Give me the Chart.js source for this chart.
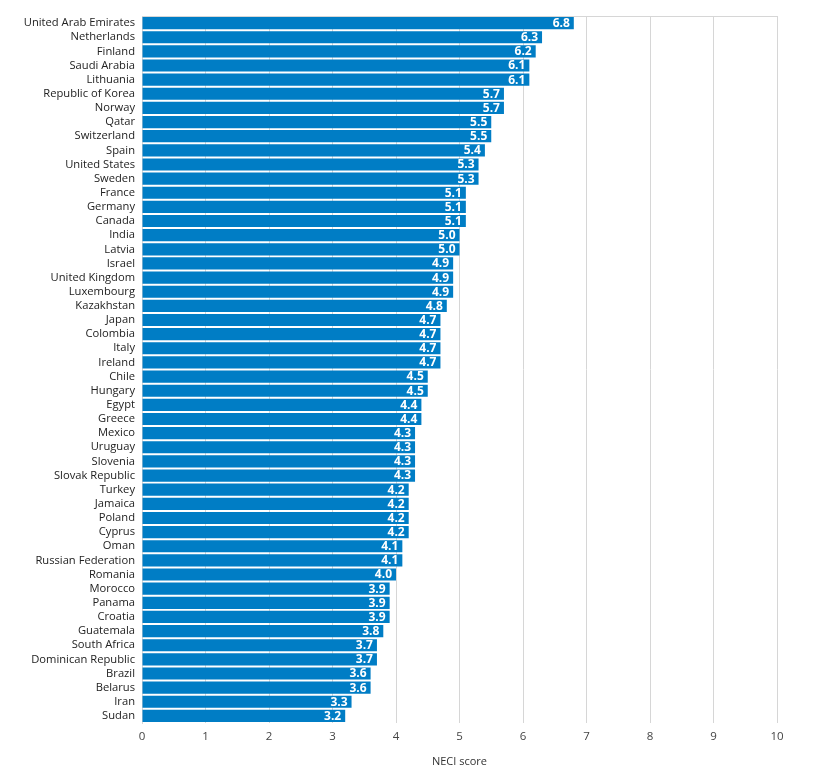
<!DOCTYPE html>
<html>
<head>
<meta charset="utf-8">
<script src="https://cdn.jsdelivr.net/npm/chart.js@4.4.1/dist/chart.umd.min.js"></script>
<style>
  html, body { margin: 0; padding: 0; background: #fff; }
  #wrap { width: 825px; height: 781px; }
</style>
</head>
<body>
<div id="wrap"><canvas id="canvas-1"></canvas></div>
<script>
// NECI score by country
var countries = [
  'United Arab Emirates', 'Netherlands', 'Finland', 'Saudi Arabia', 'Lithuania',
  'Republic of Korea', 'Norway', 'Qatar', 'Switzerland', 'Spain',
  'United States', 'Sweden', 'France', 'Germany', 'Canada',
  'India', 'Latvia', 'Israel', 'United Kingdom', 'Luxembourg',
  'Kazakhstan', 'Japan', 'Colombia', 'Italy', 'Ireland',
  'Chile', 'Hungary', 'Egypt', 'Greece', 'Mexico',
  'Uruguay', 'Slovenia', 'Slovak Republic', 'Turkey', 'Jamaica',
  'Poland', 'Cyprus', 'Oman', 'Russian Federation', 'Romania',
  'Morocco', 'Panama', 'Croatia', 'Guatemala', 'South Africa',
  'Dominican Republic', 'Brazil', 'Belarus', 'Iran', 'Sudan'
];
var neciScore = [
  6.8, 6.3, 6.2, 6.1, 6.1,
  5.7, 5.7, 5.5, 5.5, 5.4,
  5.3, 5.3, 5.1, 5.1, 5.1,
  5.0, 5.0, 4.9, 4.9, 4.9,
  4.8, 4.7, 4.7, 4.7, 4.7,
  4.5, 4.5, 4.4, 4.4, 4.3,
  4.3, 4.3, 4.3, 4.2, 4.2,
  4.2, 4.2, 4.1, 4.1, 4.0,
  3.9, 3.9, 3.9, 3.8, 3.7,
  3.7, 3.6, 3.6, 3.3, 3.2
];
var xTicks = [0, 1, 2, 3, 4, 5, 6, 7, 8, 9, 10];

var FONT = "'Open Sans', 'DejaVu Sans', sans-serif";

// value labels at the end of each bar
var valueLabels = {
  id: 'valueLabels',
  afterDatasetsDraw: function (chart) {
    var ctx = chart.ctx;
    var meta = chart.getDatasetMeta(0);
    ctx.save();
    ctx.fillStyle = '#ffffff';
    ctx.font = 'bold 12px ' + FONT;
    ctx.textAlign = 'right';
    ctx.textBaseline = 'middle';
    meta.data.forEach(function (bar, i) {
      ctx.fillText(neciScore[i].toFixed(1), bar.x - 4, bar.y + 0.5);
    });
    ctx.restore();
  }
};

// thin frame on top of the plot area
var topFrame = {
  id: 'topFrame',
  beforeDatasetsDraw: function (chart) {
    var a = chart.chartArea;
    var ctx = chart.ctx;
    ctx.save();
    ctx.strokeStyle = '#d6d6d6';
    ctx.lineWidth = 1;
    ctx.beginPath();
    ctx.moveTo(a.left, a.top + 0.5);
    ctx.lineTo(a.right, a.top + 0.5);
    ctx.stroke();
    ctx.restore();
  }
};

var ctx = document.getElementById('canvas-1');
var chart = new Chart(ctx, {
  type: 'bar',
  data: {
    labels: countries,
    datasets: [{
      label: 'NECI score',
      data: neciScore,
      backgroundColor: '#007dc5',
      borderWidth: 0,
      barPercentage: 0.86,
      categoryPercentage: 1.0
    }]
  },
  options: {
    indexAxis: 'y',
    responsive: true,
    maintainAspectRatio: false,
    animation: false,
    layout: { padding: { top: 16, right: 48, bottom: 9, left: 0 } },
    plugins: {
      legend: { display: false },
      tooltip: { enabled: false }
    },
    scales: {
      x: {
        min: 0,
        max: 10,
        afterBuildTicks: function (scale) {
          scale.ticks = xTicks.map(function (v) { return { value: v }; });
        },
        afterFit: function (scale) { scale.height = 49; },
        grid: { color: '#d6d6d6', drawTicks: false },
        border: { display: false },
        ticks: {
          padding: 7,
          color: '#444',
          font: { family: FONT, size: 11.5 }
        },
        title: {
          display: true,
          text: 'NECI score',
          color: '#333',
          font: { family: FONT, size: 11 },
          padding: { top: 4, bottom: 4 }
        }
      },
      y: {
        afterFit: function (scale) { scale.width = 142; },
        grid: { display: false, drawTicks: false },
        border: { display: true, color: '#d6d6d6' },
        ticks: {
          padding: 7,
          autoSkip: false,
          color: '#222',
          font: { family: FONT, size: 11.2 }
        }
      }
    }
  },
  plugins: [valueLabels, topFrame]
});
</script>
</body>
</html>
